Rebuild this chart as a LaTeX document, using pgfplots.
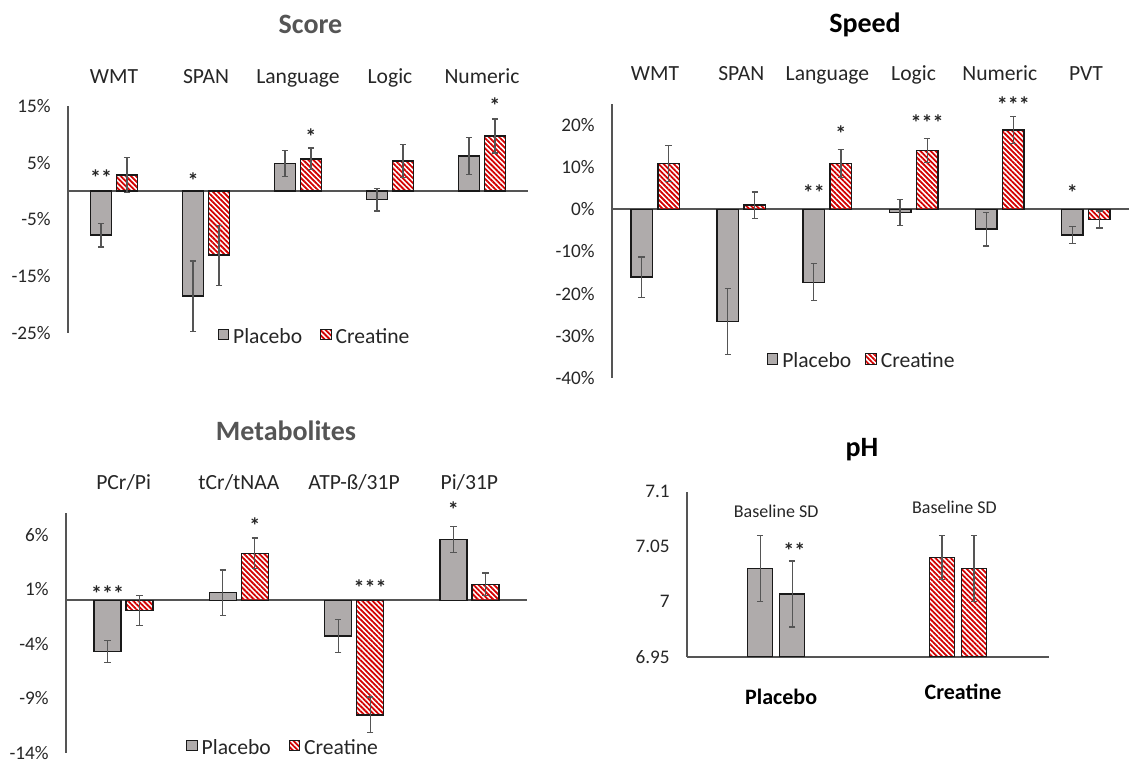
\documentclass[border=0pt]{standalone}
\usepackage{fontspec}
\setmainfont{Carlito}
\usepackage{pgfplots}
\pgfplotsset{compat=1.18}
\usetikzlibrary{patterns.meta}
\definecolor{bargray}{RGB}{175,171,171}
\definecolor{barred}{RGB}{210,0,0}
\definecolor{edge}{RGB}{25,25,25}
\definecolor{axgray}{RGB}{85,85,85}
\definecolor{txt}{RGB}{38,38,38}

\pgfplotsset{
  /pgfplots/ybar legend/.style={/pgfplots/legend image code/.code={\draw[##1, line width=0.5pt] (0pt,-1.2pt) rectangle (5.2pt,4.0pt);}},
  panel/.style={
    scale only axis,
    anchor=south west,
    clip mode=individual,
    axis x line*=top,
    axis y line*=left,
    x axis line style={draw=none},
    y axis line style={draw=axgray, line width=0.9pt},
    tick style={draw=none},
    major tick length=0pt,
    ybar,
    xmin=-0.5,
    yticklabel style={font=\fontsize{9.6}{11}\selectfont, text=txt, anchor=east, inner sep=0pt, xshift=-8.5pt},
    xticklabel style={font=\fontsize{10.8}{13}\selectfont, text=txt, anchor=base},
    extra y ticks={0}, extra y tick labels={},
    extra y tick style={grid=major, major grid style={draw=axgray, line width=0.9pt}},
    error bars/y dir=both, error bars/y explicit,
    error bars/error mark=-,
    error bars/error bar style={draw=axgray, line width=0.6pt},
    error bars/error mark options={draw=axgray, line width=0.6pt, mark size=1.6pt, rotate=90},
    legend columns=2,
    legend style={draw=none, fill=none, inner sep=0pt, font=\fontsize{10.8}{13}\selectfont, text=txt, anchor=center,
      nodes={inner sep=1pt},
      /tikz/every odd column/.append style={column sep=1pt}},
  },
  plac/.style={fill=bargray, draw=edge, line width=0.75pt},
  crea/.style={pattern={Lines[angle=-45,distance=1.8pt,line width=0.9pt]}, pattern color=barred, draw=edge, line width=0.75pt},
}
\tikzset{star/.style={anchor=base, text=txt, font=\bfseries\fontsize{11}{13}\selectfont, inner sep=0pt}}

\begin{document}
\begin{tikzpicture}
\useasboundingbox (0,0) rectangle (565.5pt,381.5pt);

% ---------- Score ----------
\begin{axis}[panel, at={(34pt,215pt)}, width=230pt, height=113.5pt,
  xmax=4.5, ymin=-25, ymax=15,
  ytick={-25,-15,-5,5,15}, yticklabels={-25\%,-15\%,-5\%,5\%,15\%},
  xtick={0,1,2,3,4}, xticklabels={WMT,SPAN,Language,Logic,Numeric},
  xticklabel style={yshift=11pt},
  bar width=0.228,
  legend style={at={(0.536,-0.018)}, /tikz/every even column/.append style={column sep=8pt}}]
\addplot[plac, bar shift=-0.141] coordinates {(0,-7.75) +- (0,2.1) (1,-18.5) +- (0,6.2) (2,4.9) +- (0,2.3) (3,-1.5) +- (0,2.0) (4,6.2) +- (0,3.3)};
\addplot[crea, bar shift=0.141] coordinates {(0,2.8) +- (0,3.1) (1,-11.3) +- (0,5.3) (2,5.7) +- (0,1.9) (3,5.3) +- (0,2.9) (4,9.7) +- (0,3.0)};
\legend{Placebo,Creatine}
\node[star] at (axis cs:-0.141,1.0) {**};
\node[star] at (axis cs:0.859,0.4) {*};
\node[star] at (axis cs:2.141,8.3) {*};
\node[star] at (axis cs:4.141,13.6) {*};
\end{axis}

% ---------- Speed ----------
\begin{axis}[panel, at={(306pt,192.5pt)}, width=258.5pt, height=137pt,
  xmax=5.5, ymin=-40, ymax=25,
  ytick={-40,-30,-20,-10,0,10,20}, yticklabels={-40\%,-30\%,-20\%,-10\%,0\%,10\%,20\%},
  xtick={0,1,2,3,4,5}, xticklabels={WMT,SPAN,Language,Logic,Numeric,PVT},
  xticklabel style={yshift=11.5pt},
  bar width=0.25,
  legend style={at={(0.483,0.059)}, /tikz/every even column/.append style={column sep=6pt}}]
\addplot[plac, bar shift=-0.157] coordinates {(0,-16.1) +- (0,4.8) (1,-26.6) +- (0,7.85) (2,-17.3) +- (0,4.4) (3,-0.7) +- (0,3.1) (4,-4.7) +- (0,4.0) (5,-6.1) +- (0,1.95)};
\addplot[crea, bar shift=0.157] coordinates {(0,10.9) +- (0,4.3) (1,1.0) +- (0,3.1) (2,10.9) +- (0,3.4) (3,14.0) +- (0,2.85) (4,18.8) +- (0,3.25) (5,-2.4) +- (0,2.0)};
\legend{Placebo,Creatine}
\node[star] at (axis cs:1.843,2.2) {**};
\node[star] at (axis cs:2.157,16.0) {*};
\node[star] at (axis cs:3.157,18.7) {***};
\node[star] at (axis cs:4.157,23.1) {***};
\node[star] at (axis cs:4.843,2.2) {*};
\end{axis}

% ---------- Metabolites ----------
\begin{axis}[panel, at={(33pt,5pt)}, width=230.5pt, height=120pt,
  xmax=3.5, ymin=-14, ymax=8,
  ytick={-14,-9,-4,1,6}, yticklabels={-14\%,-9\%,-4\%,1\%,6\%},
  xtick={0,1,2,3}, xticklabels={PCr/Pi,tCr/tNAA,ATP-ß/31P,Pi/31P},
  xticklabel style={yshift=11.6pt},
  bar width=0.233,
  legend style={at={(0.471,0.02)}, /tikz/every even column/.append style={column sep=8pt}}]
\addplot[plac, bar shift=-0.139] coordinates {(0,-4.7) +- (0,1.0) (1,0.7) +- (0,2.07) (2,-3.26) +- (0,1.5) (3,5.57) +- (0,1.22)};
\addplot[crea, bar shift=0.139] coordinates {(0,-0.94) +- (0,1.4) (1,4.3) +- (0,1.4) (2,-10.5) +- (0,1.63) (3,1.46) +- (0,1.03)};
\legend{Placebo,Creatine}
\node[star] at (axis cs:-0.139,-0.15) {***};
\node[star] at (axis cs:1.139,6.15) {*};
\node[star] at (axis cs:2.139,0.47) {***};
\node[star] at (axis cs:2.861,7.55) {*};
\end{axis}

% ---------- pH ----------
\begin{axis}[panel, at={(343.5pt,53.15pt)}, width=181pt, height=82.5pt,
  axis x line*=bottom,
  x axis line style={draw=axgray, line width=0.9pt},
  extra y ticks={},
  xmin=-0.49, xmax=1.5, ymin=6.95, ymax=7.1,
  ytick={6.95,7,7.05,7.1}, yticklabels={6.95,7,7.05,7.1},
  xtick={0,1}, xticklabels={\textbf{Placebo},\raisebox{2.4pt}{\textbf{Creatine}}},
  xticklabel style={font=\fontsize{11}{13}\selectfont, text=black, yshift=-24pt, xshift=2.5pt},
  bar width=0.137]
\addplot[plac, bar shift=-0.088] coordinates {(0,7.03) +- (0,0.03)};
\addplot[plac, bar shift=0.088] coordinates {(0,7.007) +- (0,0.03)};
\addplot[crea, bar shift=-0.088] coordinates {(1,7.04) +- (0,0.02)};
\addplot[crea, bar shift=0.088] coordinates {(1,7.03) +- (0,0.03)};
\node[anchor=base, text=txt, font=\fontsize{9}{11}\selectfont, inner sep=0pt] at (axis cs:0,7.0764) {Baseline SD};
\node[anchor=base, text=txt, font=\fontsize{9}{11}\selectfont, inner sep=0pt] at (axis cs:0.98,7.0804) {Baseline SD};
\node[star] at (axis cs:0.1,7.0395) {**};
\end{axis}

% ---------- Titles ----------
\node[anchor=base, text=axgray, font=\bfseries\fontsize{14}{16}\selectfont] at (155.25pt,364.85pt) {Score};
\node[anchor=base, text=black, font=\bfseries\fontsize{14}{16}\selectfont] at (432.5pt,365pt) {Speed};
\node[anchor=base, text=axgray, font=\bfseries\fontsize{14}{16}\selectfont] at (143pt,161pt) {Metabolites};
\node[anchor=base, text=black, font=\bfseries\fontsize{14}{16}\selectfont] at (431pt,153.15pt) {pH};
\end{tikzpicture}
\end{document}
